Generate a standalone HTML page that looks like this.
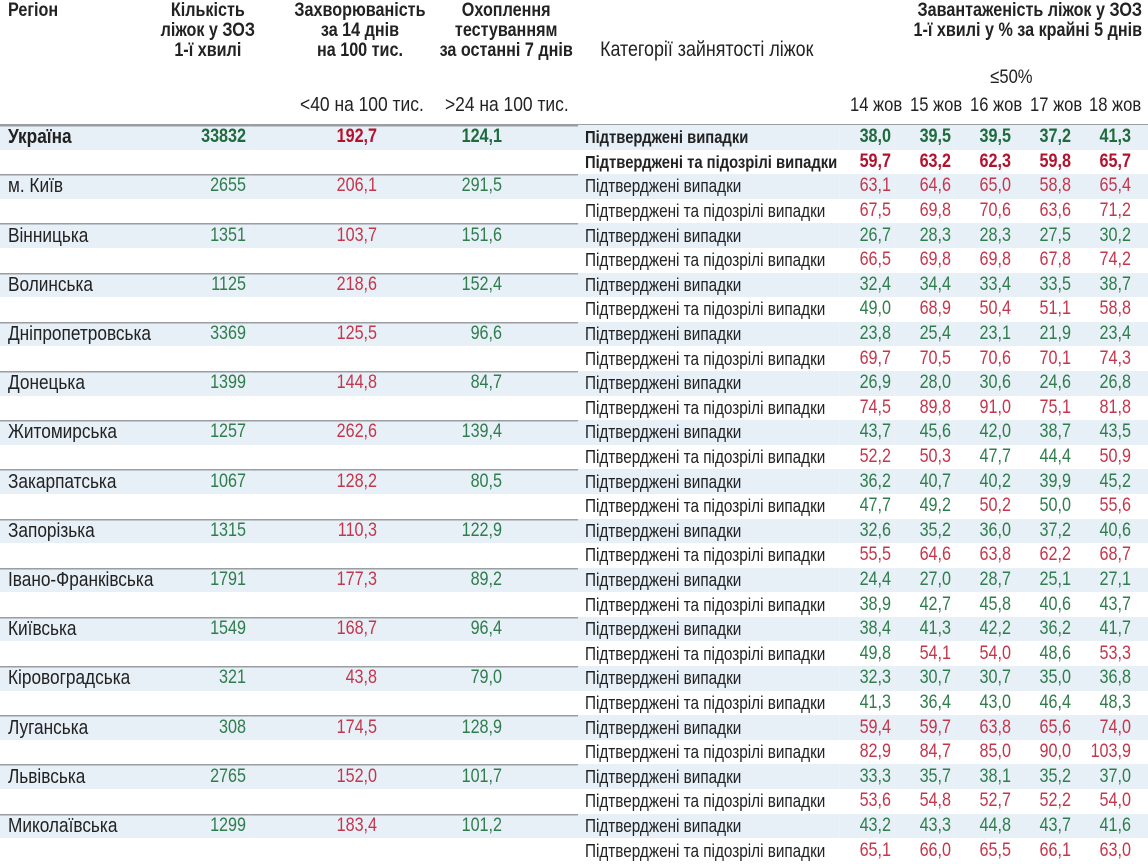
<!DOCTYPE html>
<html><head><meta charset="utf-8">
<style>
body{margin:0;width:1148px;height:864px;overflow:hidden;background:#fff;position:relative}
#w{position:absolute;left:0;top:0;width:1350.6px;height:864px;transform:scaleX(0.85);transform-origin:0 0;font-family:"Liberation Sans",sans-serif;font-size:19px;color:#222}
.h{position:absolute;font-weight:bold;text-align:center;line-height:20px;white-space:nowrap;font-size:19px}
.n{position:absolute;white-space:nowrap;line-height:20px;font-size:19.5px}
table{position:absolute;left:0;top:125px;border-collapse:collapse;table-layout:fixed;width:1350.6px}
tr{height:24.6px}
td{height:24.6px;padding:0;white-space:nowrap;line-height:18px;vertical-align:middle;overflow:hidden;box-sizing:border-box}
tr.a td{background:#e7eff7}
tr.a td.s{box-shadow:inset 0 1.5px 0 #9a9ea3}
td.r{padding-left:9.4px;font-size:20.3px}
td.c{text-align:right;padding-right:4.7px}
td.i{text-align:right;padding-right:3.5px}
td.t{text-align:right;padding-right:89.4px}
td.k{padding-left:8.2px;font-size:18px;overflow:visible}
tr.b td.k{font-size:17.4px}
td.v{text-align:right;padding-right:3.5px}
.g{color:#2f7d4d}.d{color:#c4364c}
.b td{font-weight:bold}
.b .g{color:#1f6b3d}.b .d{color:#b3122e}
</style></head><body><div id="w">
<div class="h" style="left:9.4px;top:1px;text-align:left">Регіон</div>
<div class="h" style="left:174px;top:1px;width:141px">Кількість<br>ліжок у ЗОЗ<br>1-ї хвилі</div>
<div class="h" style="left:341px;top:1px;width:165px">Захворюваність<br>за 14 днів<br>на 100 тис.</div>
<div class="h" style="left:513px;top:1px;width:165px">Охоплення<br>тестуванням<br>за останні 7 днів</div>
<div class="n" style="left:706px;top:40px;font-size:21px">Категорії зайнятості ліжок</div>
<div class="h" style="right:7px;top:1px;text-align:right">Завантаженість ліжок у ЗОЗ<br>1-ї хвилі у % за крайні 5 днів</div>
<div class="n" style="left:1165px;top:67px">≤50%</div>
<div class="n" style="left:353px;top:95px;font-size:20.5px">&lt;40 на 100 тис.</div>
<div class="n" style="left:523.5px;top:95px;font-size:20.5px">&gt;24 на 100 тис.</div>
<div class="n" style="left:1000px;top:95px">14 жов</div>
<div class="n" style="left:1070.6px;top:95px">15 жов</div>
<div class="n" style="left:1141.2px;top:95px">16 жов</div>
<div class="n" style="left:1211.8px;top:95px">17 жов</div>
<div class="n" style="left:1281.2px;top:95px">18 жов</div>
<table>
<colgroup><col style="width:200px"><col style="width:94.12px"><col style="width:152.94px"><col style="width:232.94px"><col style="width:308.24px"><col style="width:63.53px"><col style="width:70.59px"><col style="width:70.59px"><col style="width:70.59px"><col style="width:70.59px"><col style="width:16.47px"></colgroup>
<tr class="a b"><td class="r s">Україна</td><td class="c s g">33832</td><td class="i s d">192,7</td><td class="t s g">124,1</td><td class="k">Підтверджені випадки</td><td class="v g">38,0</td><td class="v g">39,5</td><td class="v g">39,5</td><td class="v g">37,2</td><td class="v g">41,3</td><td></td></tr>
<tr class="b"><td></td><td></td><td></td><td></td><td class="k">Підтверджені та підозрілі випадки</td><td class="v d">59,7</td><td class="v d">63,2</td><td class="v d">62,3</td><td class="v d">59,8</td><td class="v d">65,7</td><td></td></tr>
<tr class="a"><td class="r s">м. Київ</td><td class="c s g">2655</td><td class="i s d">206,1</td><td class="t s g">291,5</td><td class="k">Підтверджені випадки</td><td class="v d">63,1</td><td class="v d">64,6</td><td class="v d">65,0</td><td class="v d">58,8</td><td class="v d">65,4</td><td></td></tr>
<tr><td></td><td></td><td></td><td></td><td class="k">Підтверджені та підозрілі випадки</td><td class="v d">67,5</td><td class="v d">69,8</td><td class="v d">70,6</td><td class="v d">63,6</td><td class="v d">71,2</td><td></td></tr>
<tr class="a"><td class="r s">Вінницька</td><td class="c s g">1351</td><td class="i s d">103,7</td><td class="t s g">151,6</td><td class="k">Підтверджені випадки</td><td class="v g">26,7</td><td class="v g">28,3</td><td class="v g">28,3</td><td class="v g">27,5</td><td class="v g">30,2</td><td></td></tr>
<tr><td></td><td></td><td></td><td></td><td class="k">Підтверджені та підозрілі випадки</td><td class="v d">66,5</td><td class="v d">69,8</td><td class="v d">69,8</td><td class="v d">67,8</td><td class="v d">74,2</td><td></td></tr>
<tr class="a"><td class="r s">Волинська</td><td class="c s g">1125</td><td class="i s d">218,6</td><td class="t s g">152,4</td><td class="k">Підтверджені випадки</td><td class="v g">32,4</td><td class="v g">34,4</td><td class="v g">33,4</td><td class="v g">33,5</td><td class="v g">38,7</td><td></td></tr>
<tr><td></td><td></td><td></td><td></td><td class="k">Підтверджені та підозрілі випадки</td><td class="v g">49,0</td><td class="v d">68,9</td><td class="v d">50,4</td><td class="v d">51,1</td><td class="v d">58,8</td><td></td></tr>
<tr class="a"><td class="r s">Дніпропетровська</td><td class="c s g">3369</td><td class="i s d">125,5</td><td class="t s g">96,6</td><td class="k">Підтверджені випадки</td><td class="v g">23,8</td><td class="v g">25,4</td><td class="v g">23,1</td><td class="v g">21,9</td><td class="v g">23,4</td><td></td></tr>
<tr><td></td><td></td><td></td><td></td><td class="k">Підтверджені та підозрілі випадки</td><td class="v d">69,7</td><td class="v d">70,5</td><td class="v d">70,6</td><td class="v d">70,1</td><td class="v d">74,3</td><td></td></tr>
<tr class="a"><td class="r s">Донецька</td><td class="c s g">1399</td><td class="i s d">144,8</td><td class="t s g">84,7</td><td class="k">Підтверджені випадки</td><td class="v g">26,9</td><td class="v g">28,0</td><td class="v g">30,6</td><td class="v g">24,6</td><td class="v g">26,8</td><td></td></tr>
<tr><td></td><td></td><td></td><td></td><td class="k">Підтверджені та підозрілі випадки</td><td class="v d">74,5</td><td class="v d">89,8</td><td class="v d">91,0</td><td class="v d">75,1</td><td class="v d">81,8</td><td></td></tr>
<tr class="a"><td class="r s">Житомирська</td><td class="c s g">1257</td><td class="i s d">262,6</td><td class="t s g">139,4</td><td class="k">Підтверджені випадки</td><td class="v g">43,7</td><td class="v g">45,6</td><td class="v g">42,0</td><td class="v g">38,7</td><td class="v g">43,5</td><td></td></tr>
<tr><td></td><td></td><td></td><td></td><td class="k">Підтверджені та підозрілі випадки</td><td class="v d">52,2</td><td class="v d">50,3</td><td class="v g">47,7</td><td class="v g">44,4</td><td class="v d">50,9</td><td></td></tr>
<tr class="a"><td class="r s">Закарпатська</td><td class="c s g">1067</td><td class="i s d">128,2</td><td class="t s g">80,5</td><td class="k">Підтверджені випадки</td><td class="v g">36,2</td><td class="v g">40,7</td><td class="v g">40,2</td><td class="v g">39,9</td><td class="v g">45,2</td><td></td></tr>
<tr><td></td><td></td><td></td><td></td><td class="k">Підтверджені та підозрілі випадки</td><td class="v g">47,7</td><td class="v g">49,2</td><td class="v d">50,2</td><td class="v g">50,0</td><td class="v d">55,6</td><td></td></tr>
<tr class="a"><td class="r s">Запорізька</td><td class="c s g">1315</td><td class="i s d">110,3</td><td class="t s g">122,9</td><td class="k">Підтверджені випадки</td><td class="v g">32,6</td><td class="v g">35,2</td><td class="v g">36,0</td><td class="v g">37,2</td><td class="v g">40,6</td><td></td></tr>
<tr><td></td><td></td><td></td><td></td><td class="k">Підтверджені та підозрілі випадки</td><td class="v d">55,5</td><td class="v d">64,6</td><td class="v d">63,8</td><td class="v d">62,2</td><td class="v d">68,7</td><td></td></tr>
<tr class="a"><td class="r s">Івано-Франківська</td><td class="c s g">1791</td><td class="i s d">177,3</td><td class="t s g">89,2</td><td class="k">Підтверджені випадки</td><td class="v g">24,4</td><td class="v g">27,0</td><td class="v g">28,7</td><td class="v g">25,1</td><td class="v g">27,1</td><td></td></tr>
<tr><td></td><td></td><td></td><td></td><td class="k">Підтверджені та підозрілі випадки</td><td class="v g">38,9</td><td class="v g">42,7</td><td class="v g">45,8</td><td class="v g">40,6</td><td class="v g">43,7</td><td></td></tr>
<tr class="a"><td class="r s">Київська</td><td class="c s g">1549</td><td class="i s d">168,7</td><td class="t s g">96,4</td><td class="k">Підтверджені випадки</td><td class="v g">38,4</td><td class="v g">41,3</td><td class="v g">42,2</td><td class="v g">36,2</td><td class="v g">41,7</td><td></td></tr>
<tr><td></td><td></td><td></td><td></td><td class="k">Підтверджені та підозрілі випадки</td><td class="v g">49,8</td><td class="v d">54,1</td><td class="v d">54,0</td><td class="v g">48,6</td><td class="v d">53,3</td><td></td></tr>
<tr class="a"><td class="r s">Кіровоградська</td><td class="c s g">321</td><td class="i s d">43,8</td><td class="t s g">79,0</td><td class="k">Підтверджені випадки</td><td class="v g">32,3</td><td class="v g">30,7</td><td class="v g">30,7</td><td class="v g">35,0</td><td class="v g">36,8</td><td></td></tr>
<tr><td></td><td></td><td></td><td></td><td class="k">Підтверджені та підозрілі випадки</td><td class="v g">41,3</td><td class="v g">36,4</td><td class="v g">43,0</td><td class="v g">46,4</td><td class="v g">48,3</td><td></td></tr>
<tr class="a"><td class="r s">Луганська</td><td class="c s g">308</td><td class="i s d">174,5</td><td class="t s g">128,9</td><td class="k">Підтверджені випадки</td><td class="v d">59,4</td><td class="v d">59,7</td><td class="v d">63,8</td><td class="v d">65,6</td><td class="v d">74,0</td><td></td></tr>
<tr><td></td><td></td><td></td><td></td><td class="k">Підтверджені та підозрілі випадки</td><td class="v d">82,9</td><td class="v d">84,7</td><td class="v d">85,0</td><td class="v d">90,0</td><td class="v d">103,9</td><td></td></tr>
<tr class="a"><td class="r s">Львівська</td><td class="c s g">2765</td><td class="i s d">152,0</td><td class="t s g">101,7</td><td class="k">Підтверджені випадки</td><td class="v g">33,3</td><td class="v g">35,7</td><td class="v g">38,1</td><td class="v g">35,2</td><td class="v g">37,0</td><td></td></tr>
<tr><td></td><td></td><td></td><td></td><td class="k">Підтверджені та підозрілі випадки</td><td class="v d">53,6</td><td class="v d">54,8</td><td class="v d">52,7</td><td class="v d">52,2</td><td class="v d">54,0</td><td></td></tr>
<tr class="a"><td class="r s">Миколаївська</td><td class="c s g">1299</td><td class="i s d">183,4</td><td class="t s g">101,2</td><td class="k">Підтверджені випадки</td><td class="v g">43,2</td><td class="v g">43,3</td><td class="v g">44,8</td><td class="v g">43,7</td><td class="v g">41,6</td><td></td></tr>
<tr><td></td><td></td><td></td><td></td><td class="k">Підтверджені та підозрілі випадки</td><td class="v d">65,1</td><td class="v d">66,0</td><td class="v d">65,5</td><td class="v d">66,1</td><td class="v d">63,0</td><td></td></tr>
</table>
<div style="position:absolute;left:0;top:124px;width:1350.6px;height:1px;background:#9a9ea3"></div>
</div></body></html>
